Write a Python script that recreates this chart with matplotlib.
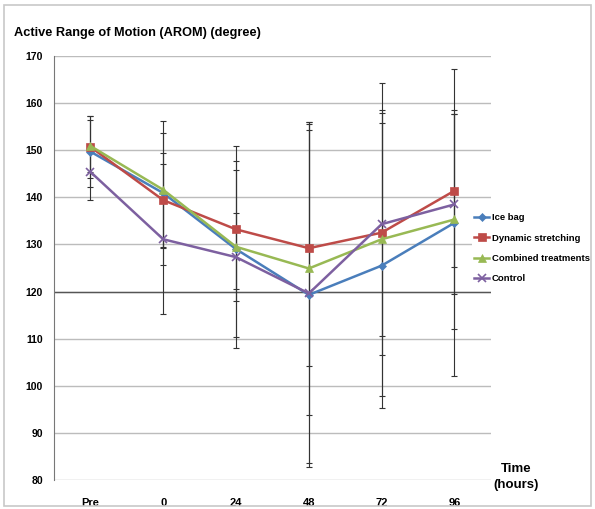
import matplotlib
matplotlib.use('Agg')
import matplotlib.pyplot as plt
from matplotlib.patches import Rectangle

categories = ['Pre', '0', '24', '48', '72', '96']
series_names = ['Ice bag', 'Dynamic stretching', 'Combined treatments', 'Control']
ice_bag = [149.7, 140.9, 129.0, 119.3, 125.5, 134.6]
ice_bag_sd = [7.6, 15.3, 18.7, 36.6, 30.3, 32.6]
dynamic = [150.7, 139.4, 133.2, 129.2, 132.5, 141.4]
dynamic_sd = [6.6, 10.1, 12.6, 25.1, 26.0, 16.2]
combined = [150.9, 141.6, 129.5, 124.9, 131.1, 135.3]
combined_sd = [5.6, 12.1, 21.5, 31.0, 33.2, 23.3]
control = [145.4, 131.1, 127.3, 119.6, 134.3, 138.5]
control_sd = [5.9, 15.9, 9.3, 36.0, 23.7, 19.1]
y_ticks = [80, 90, 100, 110, 120, 130, 140, 150, 160, 170]

plt.rcParams['font.family'] = ['Liberation Sans', 'DejaVu Sans']

colors = ['#4A7EBB', '#BE4B48', '#98B954', '#7D60A0']
markers = ['D', 's', '^', 'x']
msizes = [4, 6, 6, 6]

fig = plt.figure(figsize=(5.95, 5.09), dpi=100)
fig.patches.append(Rectangle((0.006, 0.006), 0.988, 0.985, transform=fig.transFigure,
                             fill=False, edgecolor='#c8c8c8', linewidth=1.2))
ax = fig.add_axes([0.0908, 0.057, 0.7342, 0.833])
x = list(range(len(categories)))

data = [ice_bag, dynamic, combined, control]
sds = [ice_bag_sd, dynamic_sd, combined_sd, control_sd]
for vals, sd in zip(data, sds):
    ax.errorbar(x, vals, yerr=sd, fmt='none', ecolor='#333333', elinewidth=0.8,
                capsize=2.5, capthick=0.8, zorder=2)
for vals, c, m, ms, n in zip(data, colors, markers, msizes, series_names):
    ax.plot(x, vals, color=c, marker=m, markersize=ms, linewidth=1.8,
            markeredgewidth=1.2 if m == 'x' else 0.5, markeredgecolor=c,
            label=n, zorder=3)

ax.set_xlim(-0.5, 5.5)
ax.set_ylim(80, 170)
ax.set_yticks(y_ticks)
ax.set_yticklabels([str(t) for t in y_ticks], fontsize=7.5, fontweight='bold')
ax.grid(axis='y', color='#bcbcbc', linewidth=1.0, zorder=0)
ax.axhline(120, color='#555555', linewidth=1.0, zorder=1)
ax.set_xticks(x)
ax.set_xticklabels(categories, fontsize=8, fontweight='bold')
ax.tick_params(axis='x', length=0, pad=13)
ax.tick_params(axis='y', length=0, pad=8)
for s in ['top', 'right', 'bottom']:
    ax.spines[s].set_visible(False)
ax.spines['left'].set_color('#777777')
ax.set_axisbelow(True)

fig.text(0.024, 0.935, 'Active Range of Motion (AROM) (degree)', fontsize=9.2,
         fontweight='bold', ha='left', va='center')
fig.text(0.868, 0.063, 'Time\n(hours)', fontsize=9.5, fontweight='bold',
         ha='center', va='center', linespacing=1.35)

leg = ax.legend(loc='center left', bbox_to_anchor=(0.793, 0.512),
                bbox_transform=fig.transFigure, frameon=True, handlelength=1.6,
                handletextpad=0.25, labelspacing=1.2, borderpad=0.25,
                borderaxespad=0.0, prop={'size': 6.8, 'weight': 'bold'})
leg.get_frame().set_facecolor('white')
leg.get_frame().set_edgecolor('none')
leg.get_frame().set_alpha(1.0)
leg.set_zorder(10)

fig.savefig('out.png', dpi=100)
